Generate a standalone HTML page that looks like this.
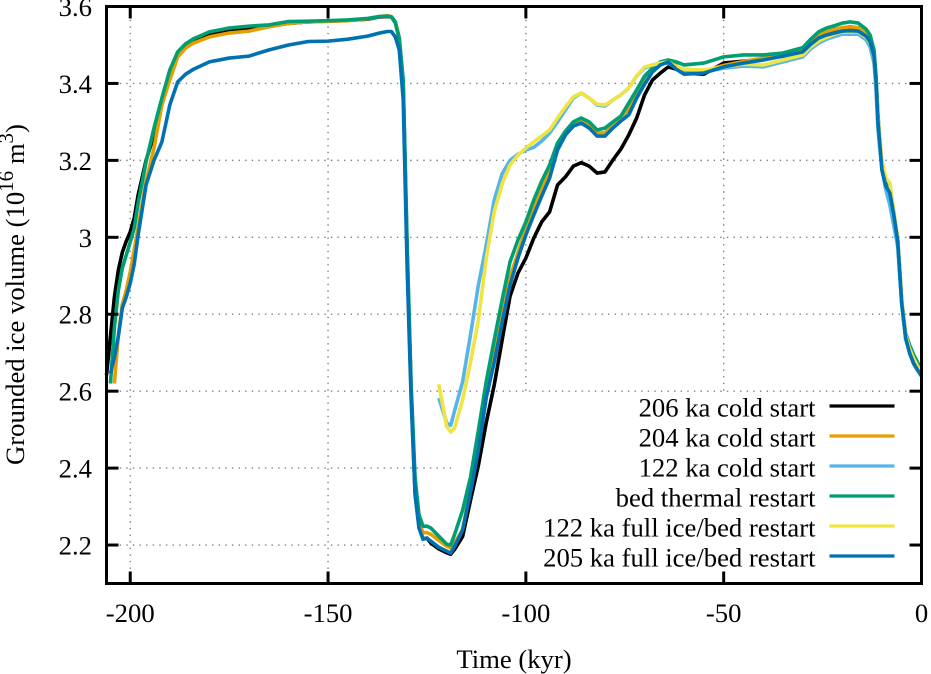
<!DOCTYPE html>
<html lang="en">
<head>
<meta charset="utf-8">
<title>Grounded ice volume</title>
<style>
html,body{margin:0;padding:0;background:#fff;}
svg{display:block;}
text{font-family:"Liberation Serif",serif;fill:#000;font-size:26.67px;}
</style>
</head>
<body>
<svg id="chart" width="931" height="674" viewBox="0 0 931 674" xmlns="http://www.w3.org/2000/svg"></svg>
<script>
const timeKyr = [
-206,-205,-204,-203,-202,-201,-200,-199,-198,-196,
-194,-192,-190,-188,-186,-184,-180,-175,-170,-165,
-160,-155,-150,-145,-140,-137,-135,-134,-133,-132,
-131,-130,-129,-128,-127,-126,-125,-124,-122,-120,
-119,-118,-116,-114,-112,-110,-108,-106,-104,-102,
-100,-98,-96,-94,-92,-90,-88,-86,-84,-82,
-80,-78,-76,-74,-72,-70,-68,-66,-64,-62,
-60,-55,-50,-45,-40,-35,-30,-28,-26,-24,
-22,-20,-18,-16,-14,-13,-12,-11.5,-11,-10,
-9,-8,-7,-6,-5,-4,-3,-2,-1,0];
const values206Cold = [
2.642,2.743,2.845,2.915,2.961,2.99,3.014,3.05,3.11,3.2,
3.266,3.344,3.422,3.474,3.5,3.513,3.526,3.536,3.541,3.549,
3.556,3.56,3.562,3.564,3.567,3.573,3.574,3.573,3.558,3.516,
3.39,2.95,2.6,2.335,2.245,2.216,2.218,2.205,2.19,2.18,
2.176,2.189,2.222,2.316,2.407,2.519,2.616,2.733,2.847,2.907,
2.946,2.998,3.04,3.066,3.136,3.157,3.185,3.194,3.185,3.167,
3.17,3.201,3.229,3.266,3.31,3.37,3.409,3.427,3.443,3.437,
3.427,3.424,3.453,3.458,3.463,3.471,3.484,3.505,3.523,3.532,
3.539,3.544,3.547,3.544,3.531,3.515,3.478,3.41,3.305,3.18,
3.135,3.118,3.06,2.992,2.83,2.74,2.7,2.672,2.655,2.64];
const values204Cold = [
null,null,2.62,2.746,2.826,2.863,2.91,2.967,3.027,3.146,
3.232,3.344,3.409,3.469,3.492,3.505,3.521,3.531,3.536,3.547,
3.556,3.56,3.561,3.563,3.568,3.574,3.576,3.574,3.56,3.518,
3.4,2.965,2.61,2.36,2.26,2.232,2.232,2.228,2.212,2.197,
2.192,2.205,2.24,2.345,2.462,2.595,2.695,2.795,2.895,2.96,
3.022,3.075,3.125,3.17,3.235,3.27,3.295,3.303,3.292,3.27,
3.272,3.292,3.308,3.335,3.372,3.408,3.435,3.452,3.458,3.445,
3.432,3.432,3.447,3.457,3.466,3.474,3.485,3.508,3.525,3.535,
3.541,3.545,3.547,3.545,3.533,3.518,3.48,3.415,3.31,3.185,
3.135,3.118,3.06,2.992,2.832,2.742,2.705,2.68,2.66,2.645];
const values122Cold = [
null,null,null,null,null,null,null,null,null,null,
null,null,null,null,null,null,null,null,null,null,
null,null,null,null,null,null,null,null,null,null,
null,null,null,null,null,null,null,null,2.582,2.517,
2.511,2.55,2.624,2.746,2.876,2.98,3.097,3.165,3.2,3.216,
3.227,3.234,3.25,3.271,3.3,3.331,3.362,3.375,3.362,3.344,
3.341,3.357,3.37,3.388,3.419,3.44,3.448,3.453,3.453,3.44,
3.432,3.43,3.44,3.445,3.443,3.456,3.469,3.49,3.505,3.515,
3.522,3.528,3.528,3.528,3.513,3.495,3.453,3.383,3.28,3.175,
3.123,3.084,3.03,2.974,2.824,2.735,2.7,2.675,2.658,2.645];
const valuesBedThermal = [
null,2.62,2.766,2.863,2.92,2.954,2.988,3.024,3.089,3.196,
3.284,3.362,3.435,3.482,3.503,3.516,3.534,3.544,3.549,3.552,
3.561,3.562,3.563,3.565,3.569,3.574,3.575,3.573,3.56,3.518,
3.409,2.98,2.616,2.374,2.278,2.249,2.249,2.244,2.223,2.202,
2.2,2.228,2.29,2.376,2.498,2.626,2.733,2.837,2.936,2.993,
3.04,3.097,3.146,3.188,3.245,3.276,3.3,3.31,3.3,3.279,
3.284,3.3,3.315,3.349,3.383,3.419,3.44,3.456,3.461,3.456,
3.448,3.453,3.469,3.474,3.474,3.479,3.493,3.515,3.534,3.544,
3.55,3.557,3.56,3.557,3.541,3.526,3.487,3.422,3.318,3.188,
3.141,3.123,3.065,2.992,2.835,2.75,2.72,2.695,2.675,2.655];
const values122Full = [
null,null,null,null,null,null,null,null,null,null,
null,null,null,null,null,null,null,null,null,null,
null,null,null,null,null,null,null,null,null,null,
null,null,null,null,null,null,null,null,2.618,2.508,
2.494,2.504,2.577,2.675,2.785,2.946,3.066,3.139,3.188,3.214,
3.232,3.248,3.263,3.279,3.31,3.339,3.365,3.375,3.362,3.346,
3.344,3.357,3.37,3.388,3.419,3.443,3.448,3.453,3.456,3.443,
3.437,3.435,3.443,3.45,3.448,3.461,3.474,3.495,3.51,3.52,
3.528,3.534,3.534,3.534,3.52,3.505,3.469,3.409,3.31,3.2,
3.154,3.141,3.071,2.998,2.837,2.745,2.71,2.685,2.665,2.65];
const values205Full = [
null,2.646,2.688,2.743,2.816,2.845,2.881,2.93,3.006,3.136,
3.2,3.248,3.344,3.404,3.424,3.437,3.456,3.466,3.471,3.487,
3.5,3.509,3.51,3.515,3.523,3.531,3.535,3.535,3.521,3.487,
3.357,2.915,2.577,2.33,2.244,2.215,2.218,2.21,2.194,2.184,
2.179,2.197,2.239,2.337,2.447,2.584,2.675,2.779,2.876,2.946,
3.006,3.058,3.107,3.154,3.227,3.266,3.289,3.297,3.284,3.263,
3.263,3.284,3.302,3.318,3.362,3.398,3.43,3.448,3.456,3.437,
3.424,3.427,3.443,3.453,3.461,3.471,3.482,3.502,3.518,3.526,
3.531,3.536,3.537,3.536,3.523,3.508,3.471,3.409,3.3,3.175,
3.133,3.115,3.058,2.99,2.829,2.738,2.699,2.673,2.655,2.639];
const seriesNames = ["206 ka cold start","204 ka cold start","122 ka cold start","bed thermal restart","122 ka full ice/bed restart","205 ka full ice/bed restart"];
const seriesSlugs = ["206-ka-cold-start","204-ka-cold-start","122-ka-cold-start","bed-thermal-restart","122-ka-full-restart","205-ka-full-restart"];
const seriesColors = ["#000000","#e69f00","#56b4e9","#009e73","#f0e442","#0072b2"];
const seriesValues = [values206Cold,values204Cold,values122Cold,valuesBedThermal,values122Full,values205Full];
const xTicks = [-200,-150,-100,-50,0];
const yTicks = [2.2,2.4,2.6,2.8,3,3.2,3.4,3.6];

const svg = document.getElementById('chart');
const NS = 'http://www.w3.org/2000/svg';
const plot = {left:106.5,right:921.5,top:6.5,bottom:583.5};
const xDomain = [-206,0];
const yDomain = [2.1,3.6];
function xScale(t){return plot.left+(t-xDomain[0])/(xDomain[1]-xDomain[0])*(plot.right-plot.left);}
function yScale(v){return plot.bottom-(v-yDomain[0])/(yDomain[1]-yDomain[0])*(plot.bottom-plot.top);}
function make(tag,attrs){
  const el=document.createElementNS(NS,tag);
  for(const k in attrs){el.setAttribute(k,attrs[k]);}
  svg.appendChild(el);
  return el;
}
const gridStyle={stroke:'#7f7f7f','stroke-width':1.4,'stroke-dasharray':'1.4 5.2',fill:'none'};

xTicks.forEach(function(t){
  if(t===0)return;
  const el=make('line',Object.assign({x1:xScale(t),x2:xScale(t),y1:plot.top,y2:plot.bottom},gridStyle));
  
  
});
yTicks.forEach(function(v){
  if(v===3.6)return;
  const el=make('line',Object.assign({x1:plot.left,x2:plot.right,y1:yScale(v),y2:yScale(v)},gridStyle));
  
  
});

const legendBg=make('rect',{x:452,y:393,width:455,height:182,fill:'#fff'});



seriesValues.forEach(function(vals,i){
  let d='';
  vals.forEach(function(v,j){
    if(v===null)return;
    d+=(d===''?'M':'L')+xScale(timeKyr[j]).toFixed(2)+' '+yScale(v).toFixed(2);
  });
  const el=make('path',{d:d,fill:'none',stroke:seriesColors[i],'stroke-width':3.6,'stroke-linejoin':'round','stroke-linecap':'butt'});
  
  
});

xTicks.forEach(function(t){
  const x=xScale(t);
  const bottomTick=make('line',{x1:x,x2:x,y1:plot.bottom,y2:plot.bottom-12,stroke:'#000','stroke-width':3});
  
  
  const topTick=make('line',{x1:x,x2:x,y1:plot.top,y2:plot.top+12,stroke:'#000','stroke-width':3});
  
  
  const label=make('text',{x:x,y:622,'text-anchor':'middle'});
  label.textContent=String(t);
  
  
});
yTicks.forEach(function(v){
  const y=yScale(v);
  const leftTick=make('line',{x1:plot.left,x2:plot.left+12,y1:y,y2:y,stroke:'#000','stroke-width':3});
  
  
  const rightTick=make('line',{x1:plot.right,x2:plot.right-12,y1:y,y2:y,stroke:'#000','stroke-width':3});
  
  
  const label=make('text',{x:92,y:y+9.5,'text-anchor':'end'});
  label.textContent=String(v);
  
  
});

const frame=make('rect',{x:plot.left,y:plot.top,width:plot.right-plot.left,height:plot.bottom-plot.top,fill:'none',stroke:'#000','stroke-width':3});



seriesNames.forEach(function(name,i){
  const rowY=406+i*30;
  const label=make('text',{x:815.5,y:rowY+10.7,'text-anchor':'end'});
  label.textContent=name;
  
  
  const swatch=make('line',{x1:829.5,x2:894.5,y1:rowY,y2:rowY,stroke:seriesColors[i],'stroke-width':3.2});
  
  
});

const xTitle=make('text',{x:514,y:668,'text-anchor':'middle'});
xTitle.textContent='Time (kyr)';



const yTitle=make('text',{x:0,y:0,transform:'translate(24,465) rotate(-90)'});


const yParts=[['Grounded ice volume (10',0,26.67],['16',-11,21],[' m',11,26.67],['3',-11,21],[')',11,26.67]];
yParts.forEach(function(p){
  const ts=document.createElementNS(NS,'tspan');
  ts.setAttribute('dy',p[1]);
  ts.setAttribute('font-size',p[2]);
  ts.setAttribute('style','font-size:'+p[2]+'px');
  ts.textContent=p[0];
  yTitle.appendChild(ts);
});
</script>
</body>
</html>
